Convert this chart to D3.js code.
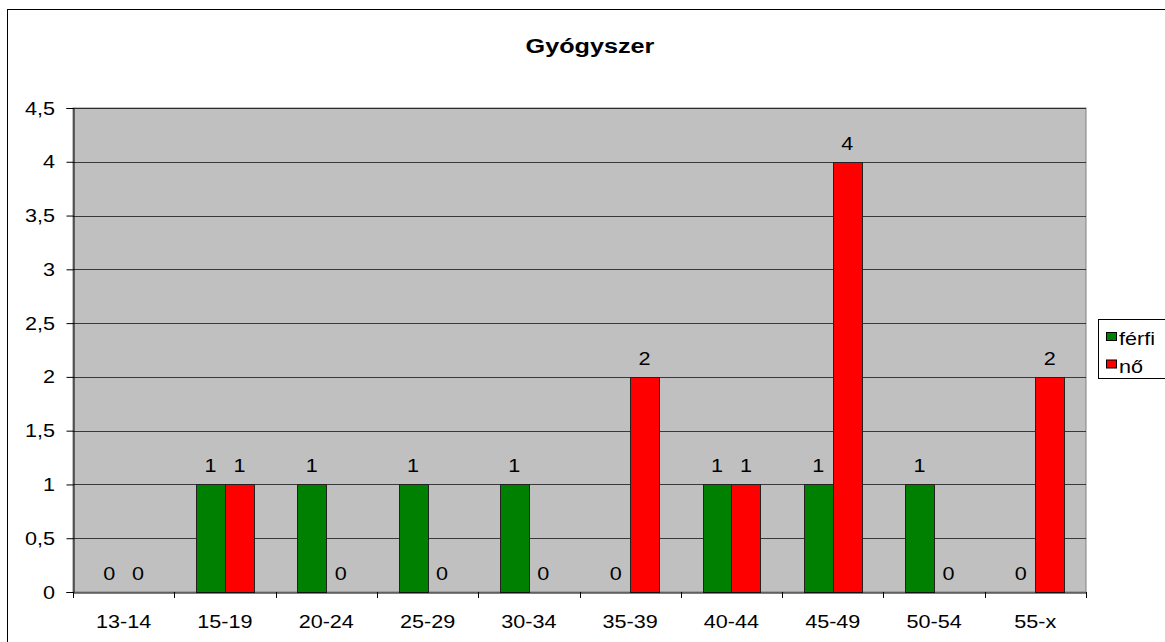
<!DOCTYPE html>
<html><head><meta charset="utf-8">
<script src="https://cdn.jsdelivr.net/npm/d3@7"></script>
<style>body{margin:0;background:#fff;}svg{display:block;font-family:"Liberation Sans",Arial,sans-serif;}</style>
</head><body>
<script>
const categories = ["13-14","15-19","20-24","25-29","30-34","35-39","40-44","45-49","50-54","55-x"];
const ferfi = [0,1,1,1,1,0,1,1,1,0];
const no = [0,1,0,0,0,2,1,4,0,2];
const seriesNames = ["férfi","nő"];
const seriesColors = ["#008000","#FF0000"];
const yTicks = [0,0.5,1,1.5,2,2.5,3,3.5,4,4.5];
const title = "Gyógyszer";

const W=1165,H=642, SX=1.2;
const svg=d3.select("body").append("svg").attr("width",W).attr("height",H);
svg.append("rect").attr("x",7.5).attr("y",9.5).attr("width",1200).attr("height",700).attr("fill","#fff").attr("stroke","#000").attr("stroke-width",1);

function stext(g,x,y,str,size,anchor,weight){
  return g.append("text").attr("transform",`translate(${x},${y}) scale(${SX},1)`)
    .attr("text-anchor",anchor||"start").attr("font-size",size).attr("font-weight",weight||"normal")
    .attr("fill","#000").text(str);
}

const L=73,T=108,R=1086,B=592;
const x=d3.scaleBand().domain(categories).range([L,R]);
const y=d3.scaleLinear().domain([0,4.5]).range([B,T]);
const x1=d3.scaleBand().domain([0,1]).range([0,x.bandwidth()]).paddingOuter(0.75).paddingInner(0);

svg.append("rect").attr("x",L).attr("y",T).attr("width",R-L).attr("height",B-T).attr("fill","#C0C0C0").attr("stroke","#808080");

svg.append("g").selectAll("line").data(yTicks.slice(1)).join("line")
  .attr("x1",L).attr("x2",R).attr("y1",d=>Math.round(y(d))+0.5).attr("y2",d=>Math.round(y(d))+0.5)
  .attr("stroke","#000").attr("stroke-width",1).attr("opacity",0.7);

const series=[ferfi,no];
const labG=svg.append("g");
series.forEach((vals,si)=>{
  svg.append("g").selectAll("rect").data(vals).join("rect")
    .attr("x",(d,i)=>Math.round(x(categories[i])+x1(si))+0.5)
    .attr("y",d=>Math.round(y(d))+0.5)
    .attr("width",Math.round(x1.bandwidth()))
    .attr("height",d=>Math.round(y(0))-Math.round(y(d)))
    .attr("fill",seriesColors[si]).attr("stroke","#222").attr("stroke-width",1)
    .attr("display",d=>d>0?null:"none");
  vals.forEach((d,i)=>{
    stext(labG,x(categories[i])+x1(si)+x1.bandwidth()/2,y(d)-12,d,18,"middle");
  });
});

// axes
const ya=d3.axisLeft(y).tickValues(yTicks).tickSize(7).tickFormat("");
const yg=svg.append("g").attr("transform",`translate(${L+0.5},0)`).call(ya);
yg.selectAll("line,path").attr("stroke","#000");
yTicks.forEach(t=>stext(svg,55,y(t)+6.5,String(t).replace(".",","),18,"end"));

const xa=d3.axisBottom(x).tickSize(0).tickFormat("");
const xg=svg.append("g").attr("transform",`translate(0,${B+0.5})`).call(xa);
xg.select(".domain").attr("stroke","#000");
categories.forEach(c=>stext(svg,x(c)+x.bandwidth()/2,628,c,18,"middle"));
svg.append("g").selectAll("line").data(categories.concat(["end"])).join("line")
  .attr("x1",(d,i)=>Math.round(i<categories.length?x(d):R)+0.5).attr("x2",(d,i)=>Math.round(i<categories.length?x(d):R)+0.5)
  .attr("y1",B).attr("y2",B+6).attr("stroke","#000");

stext(svg,590,53,title,21,"middle","bold");

// legend
const lg=svg.append("g");
lg.append("rect").attr("x",1098.5).attr("y",319.5).attr("width",100).attr("height",59).attr("fill","#fff").attr("stroke","#000");
seriesNames.forEach((n,i)=>{
  lg.append("rect").attr("x",1106.5).attr("y",332.5+i*27.5).attr("width",10).attr("height",8).attr("fill",seriesColors[i]).attr("stroke","#000");
  stext(lg,1119,345+i*28,n,18,"start");
});
</script>
</body></html>
